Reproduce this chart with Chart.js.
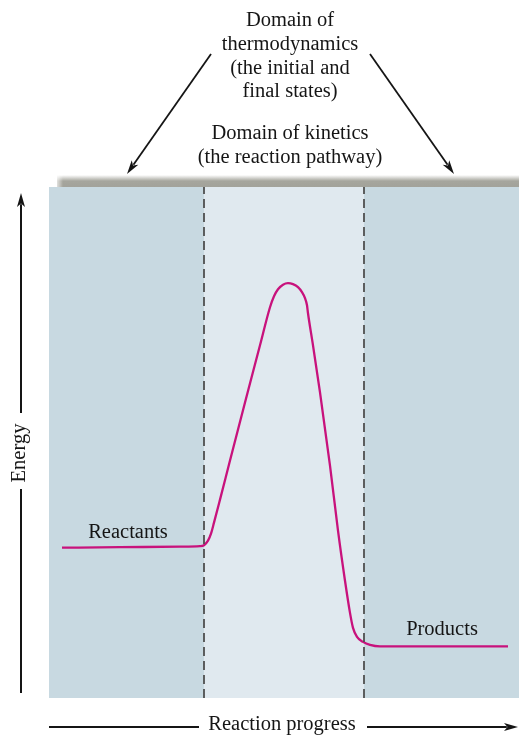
<!DOCTYPE html>
<html>
<head>
<meta charset="utf-8">
<script src="https://cdn.jsdelivr.net/npm/chart.js@4/dist/chart.umd.min.js"></script>
<style>
  html, body { margin: 0; padding: 0; background: #fff; }
  #wrap { width: 520px; height: 736px; position: relative; }
</style>
</head>
<body>
<div id="wrap"><canvas id="chartEnergy"></canvas></div>
<script>
// reaction progress (0..470) vs energy (0..510)
const progress = [13, 71, 131, 151, 155, 159, 162, 165, 171, 181, 196, 211, 221, 225, 229, 234, 239, 244, 249, 253, 256, 258, 259, 264, 271, 281, 289, 296, 301, 304, 308, 314, 321, 331, 391, 459];
const energy   = [150, 150.5, 151, 151.5, 152.5, 157, 164, 175, 198, 237, 295, 352, 390, 401, 408, 412.5, 414, 413, 410, 405, 399, 392, 384, 352, 305, 232, 167, 117, 85, 70, 61, 56, 53, 51.5, 51.5, 51.5];

// region borders: thermodynamics | kinetics | thermodynamics
const bandEdges = [0, 155, 315, 470];
const bandColors = ['#c8d9e1', '#e0e9ef', '#c8d9e1'];
const dashedAt = [155, 315];

const labels = [
    { text: 'Reactants', x: 79, y: 165 },
    { text: 'Products', x: 393, y: 68 },
];

const SERIF = '"Liberation Serif", "DejaVu Serif", serif';
const INK = '#151515';

function arrow(ctx, x1, y1, x2, y2) {
    const a = Math.atan2(y2 - y1, x2 - x1);
    const len = 14, w = 4;
    ctx.beginPath();
    ctx.moveTo(x1, y1);
    ctx.lineTo(x2 - Math.cos(a) * len * 0.8, y2 - Math.sin(a) * len * 0.8);
    ctx.stroke();
    ctx.beginPath();
    ctx.moveTo(x2, y2);
    ctx.lineTo(x2 - Math.cos(a) * len - Math.sin(a) * w, y2 - Math.sin(a) * len + Math.cos(a) * w);
    ctx.lineTo(x2 - Math.cos(a) * len * 0.75, y2 - Math.sin(a) * len * 0.75);
    ctx.lineTo(x2 - Math.cos(a) * len + Math.sin(a) * w, y2 - Math.sin(a) * len - Math.cos(a) * w);
    ctx.closePath();
    ctx.fill();
}

const bandsPlugin = {
    id: 'bands',
    beforeDatasetsDraw: function (chart) {
        const ctx = chart.ctx, xs = chart.scales.x, a = chart.chartArea;
        ctx.save();
        for (let i = 0; i < bandColors.length; i++) {
            const l = xs.getPixelForValue(bandEdges[i]);
            const r = xs.getPixelForValue(bandEdges[i + 1]);
            ctx.fillStyle = bandColors[i];
            ctx.fillRect(l, a.top, r - l, a.bottom - a.top);
        }
        // shaded lip above the plot
        const g = ctx.createLinearGradient(0, a.top - 12, 0, a.top);
        g.addColorStop(0, 'rgba(150,150,140,0)');
        g.addColorStop(0.5, 'rgba(150,150,140,0.85)');
        g.addColorStop(1, '#a3a39b');
        ctx.fillStyle = g;
        ctx.fillRect(a.left + 8, a.top - 12, a.right - a.left - 8, 12);
        const g2 = ctx.createLinearGradient(a.left + 5, 0, a.left + 14, 0);
        g2.addColorStop(0, 'rgba(255,255,255,1)');
        g2.addColorStop(1, 'rgba(255,255,255,0)');
        ctx.fillStyle = g2;
        ctx.fillRect(a.left + 5, a.top - 12, 9, 12);
        ctx.restore();
    },
};

const notesPlugin = {
    id: 'notes',
    afterDraw: function (chart) {
        const ctx = chart.ctx, xs = chart.scales.x, ys = chart.scales.y;
        ctx.save();
        ctx.fillStyle = INK;
        ctx.strokeStyle = INK;
        ctx.font = '20.5px ' + SERIF;
        ctx.textAlign = 'center';
        ctx.textBaseline = 'middle';

        labels.forEach(function (l) {
            ctx.fillText(l.text, xs.getPixelForValue(l.x), ys.getPixelForValue(l.y));
        });

        const top = ['Domain of', 'thermodynamics', '(the initial and', 'final states)'];
        top.forEach(function (t, i) { ctx.fillText(t, 290, 21 + i * 23.6); });
        ctx.fillText('Domain of kinetics', 290, 134);
        ctx.fillText('(the reaction pathway)', 290, 158);

        ctx.lineWidth = 1.8;
        arrow(ctx, 211, 54, 127, 174);
        arrow(ctx, 370, 54, 454, 174);

        // energy axis
        ctx.lineWidth = 2;
        arrow(ctx, 21, 413, 21, 193);
        ctx.beginPath();
        ctx.moveTo(21, 489);
        ctx.lineTo(21, 693);
        ctx.stroke();
        ctx.save();
        ctx.translate(20, 453);
        ctx.rotate(-Math.PI / 2);
        ctx.fillText('Energy', 0, 0);
        ctx.restore();

        // progress axis
        ctx.fillText('Reaction progress', 282, 725);
        ctx.beginPath();
        ctx.moveTo(49, 727);
        ctx.lineTo(199, 727);
        ctx.stroke();
        arrow(ctx, 367, 727, 518, 727);
        ctx.restore();
    },
};

const Charts = {
    instances: {},

    createEnergyChart: function (id) {
        const c = document.getElementById(id);
        if (!c || typeof Chart === 'undefined') return;

        const datasets = dashedAt.map(function (v) {
            return {
                data: [{ x: v, y: 0 }, { x: v, y: 510 }],
                showLine: true,
                borderColor: '#4f4f4f',
                borderWidth: 1.8,
                borderDash: [9, 5],
                pointRadius: 0,
            };
        });
        datasets.push({
            data: progress.map(function (p, i) { return { x: p, y: energy[i] }; }),
            showLine: true,
            borderColor: '#c8127c',
            borderWidth: 2.3,
            pointRadius: 0,
            cubicInterpolationMode: 'monotone',
        });

        this.instances[id] = new Chart(c, {
            type: 'scatter',
            data: { datasets: datasets },
            options: {
                responsive: true,
                maintainAspectRatio: false,
                animation: false,
                layout: { padding: { left: 49, right: 1, top: 187, bottom: 38 } },
                plugins: { legend: { display: false }, tooltip: { enabled: false } },
                scales: {
                    x: { type: 'linear', min: 0, max: 470, display: false },
                    y: { type: 'linear', min: 0, max: 510, display: false },
                },
            },
            plugins: [bandsPlugin, notesPlugin],
        });
    },
};

Charts.createEnergyChart('chartEnergy');
</script>
</body>
</html>
